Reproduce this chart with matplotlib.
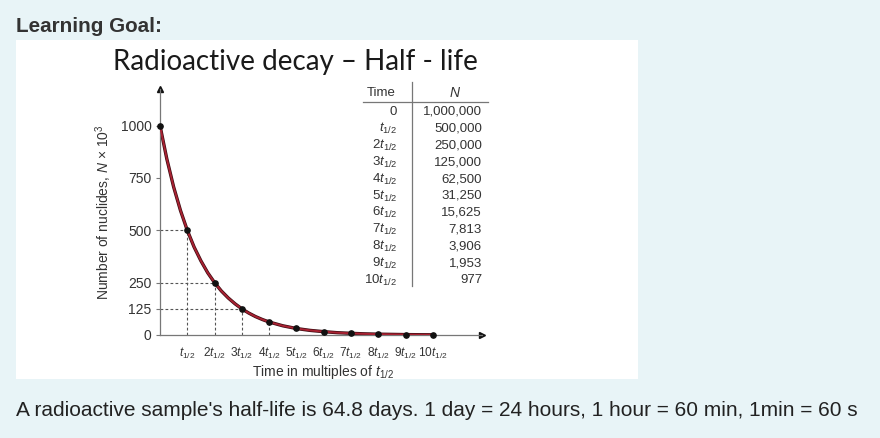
import matplotlib
matplotlib.use("Agg")
import matplotlib.pyplot as plt
from matplotlib.patches import Rectangle

plt.rcParams['font.family'] = ['Liberation Sans', 'DejaVu Sans']
plt.rcParams['mathtext.fontset'] = 'custom'
plt.rcParams['mathtext.rm'] = 'Liberation Sans'
plt.rcParams['mathtext.it'] = 'Liberation Sans:italic'

# data
half_lives = [0, 1, 2, 3, 4, 5, 6, 7, 8, 9, 10]
nuclides = [1000000, 500000, 250000, 125000, 62500, 31250, 15625, 7813, 3906, 1953, 977]
time_labels = ['0', '$t_{1/2}$', '2$t_{1/2}$', '3$t_{1/2}$', '4$t_{1/2}$', '5$t_{1/2}$',
               '6$t_{1/2}$', '7$t_{1/2}$', '8$t_{1/2}$', '9$t_{1/2}$', '10$t_{1/2}$']
# red curve (N x 10^3)
curve_t = [0, 0.25, 0.5, 0.75, 1, 1.25, 1.5, 1.75, 2, 2.25, 2.5, 2.75, 3, 3.25, 3.5, 3.75,
           4, 4.5, 5, 5.5, 6, 6.5, 7, 7.5, 8, 8.5, 9, 9.5, 10]
curve_n = [1000, 841, 707, 595, 500, 420, 354, 297, 250, 210, 177, 149, 125, 105, 88, 74,
           62, 44, 31, 22, 16, 11, 8, 5.5, 4, 3, 2, 1.4, 1]
y_ticks = [0, 125, 250, 500, 750, 1000]
guide_levels = [1, 2, 3]

W, H = 880, 438
BG = '#e8f4f7'
INK = '#333333'


def fx(px):
    return px / W


def fy(py):
    return 1 - py / H


fig = plt.figure(figsize=(W / 100, H / 100), dpi=100, facecolor=BG)

fig.text(fx(16), fy(26), 'Learning Goal:', fontsize=14.9, fontweight='bold',
         color='#333333', ha='left', va='center')
fig.patches.append(Rectangle((fx(16), fy(379)), fx(638) - fx(16), fy(40) - fy(379),
                             transform=fig.transFigure, facecolor='white',
                             edgecolor='none', zorder=-5))
fig.text(fx(295), fy(62), 'Radioactive decay \u2013 Half - life', fontsize=20,
         family=['Lato', 'DejaVu Sans'], color='#1a1a1a', ha='center', va='center')
fig.text(fx(16), fy(411), "A radioactive sample's half-life is 64.8 days. 1 day = 24 hours, "
         "1 hour = 60 min, 1min = 60 s", fontsize=15, color='#222222',
         ha='left', va='center')

ax = fig.add_axes([fx(160), 103 / H, 322 / W, 246 / H])
ax.set_facecolor('none')
ax.set_xlim(0, 11.8)
ax.set_ylim(0, 1175)
for s in ['top', 'right']:
    ax.spines[s].set_visible(False)
for s in ['left', 'bottom']:
    ax.spines[s].set_color('#777777')
    ax.spines[s].set_linewidth(0.9)
ax.plot(1, 0, '>', color='#111111', ms=5, transform=ax.transAxes, clip_on=False)
ax.plot(0, 1, '^', color='#111111', ms=5, transform=ax.transAxes, clip_on=False)

kn = [n / 1000 for n in nuclides]
for i in guide_levels:
    ax.plot([0, half_lives[i]], [kn[i], kn[i]], color='#555555', lw=0.8,
            ls=(0, (2.5, 2)), zorder=1)
for i in [1, 2, 3, 4]:
    ax.plot([half_lives[i], half_lives[i]], [0, kn[i]], color='#555555', lw=0.8,
            ls=(0, (2.5, 2)), zorder=1)

ax.plot(curve_t, curve_n, color='#3a0a10', lw=2.4, zorder=2, solid_joinstyle='round')
ax.plot(curve_t, curve_n, color='#a82232', lw=1.4, zorder=3, solid_joinstyle='round')
ax.plot(half_lives, kn, 'o', color='#111111', ms=3.8, zorder=4, clip_on=False)

ax.set_yticks(y_ticks)
ax.set_yticklabels([str(v) for v in y_ticks])
ax.tick_params(axis='y', length=3, width=0.8, color='#777777', labelsize=10,
               labelcolor=INK, pad=3)
ax.set_xticks(half_lives[1:])
ax.set_xticklabels(time_labels[1:])
ax.tick_params(axis='x', length=0, labelsize=8.6, labelcolor=INK, pad=8)
ax.set_ylabel('Number of nuclides, $N$ \u00d7 10$^3$', fontsize=10, color=INK, labelpad=5)
fig.text(fx(323), fy(372), 'Time in multiples of $t_{1/2}$', fontsize=10, color=INK,
         ha='center', va='center')

# table
fig.text(fx(396), fy(93), 'Time', fontsize=9.5, color=INK, ha='right', va='center')
fig.text(fx(455), fy(93), '$N$', fontsize=10, color=INK, ha='center', va='center')
fig.add_artist(plt.Line2D([fx(363), fx(488)], [fy(102), fy(102)], color='#777777', lw=0.9))
fig.add_artist(plt.Line2D([fx(412), fx(412)], [fy(82), fy(286)], color='#777777', lw=0.9))
for i, (lab, n) in enumerate(zip(time_labels, nuclides)):
    yy = 112 + i * 16.8
    fig.text(fx(397), fy(yy), lab, fontsize=9.5, color=INK, ha='right', va='center')
    fig.text(fx(482), fy(yy), f'{n:,}', fontsize=9.5, color=INK, ha='right', va='center')

fig.savefig('out.png', dpi=100, facecolor=BG)
